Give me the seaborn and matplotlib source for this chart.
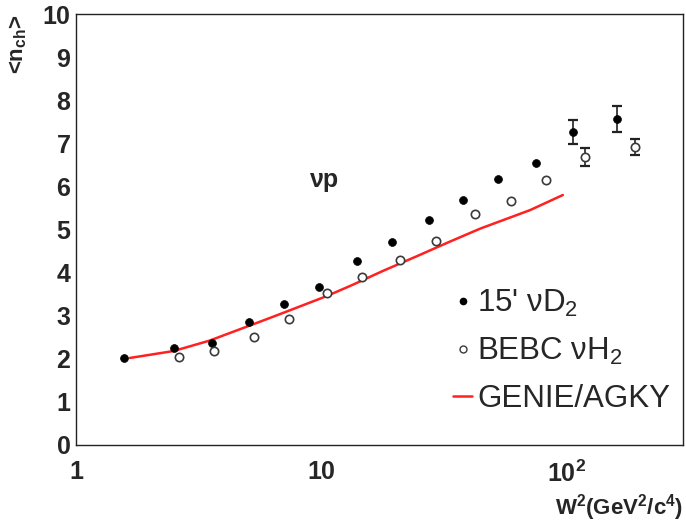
import matplotlib
matplotlib.use("Agg")
import matplotlib.pyplot as plt
from matplotlib.ticker import FixedLocator, MultipleLocator, NullFormatter, FixedFormatter
from matplotlib.lines import Line2D
import numpy as np
import pandas as pd
import seaborn as sns

# 15' bubble chamber, nu D2
d2_w2 = [1.57, 2.51, 3.59, 5.08, 7.06, 9.82, 14.0, 19.5, 27.6, 38.0, 52.8, 75.4, 107, 161]
d2_nch = [2.02, 2.25, 2.37, 2.85, 3.27, 3.67, 4.27, 4.71, 5.22, 5.68, 6.17, 6.54, 7.26, 7.56]
d2_err = [0, 0, 0, 0, 0, 0, 0, 0, 0, 0, 0, 0, 0.27, 0.30]

# BEBC, nu H2
h2_w2 = [2.63, 3.66, 5.33, 7.41, 10.6, 14.7, 21.0, 29.4, 42.6, 59.7, 82.8, 120, 191]
h2_nch = [2.04, 2.18, 2.51, 2.92, 3.53, 3.90, 4.29, 4.73, 5.36, 5.66, 6.15, 6.68, 6.91]
h2_err = [0, 0, 0, 0, 0, 0, 0, 0, 0, 0, 0, 0.20, 0.18]

# GENIE / AGKY prediction
genie_w2 = [1.66, 2.5, 3.5, 5.0, 6.2, 7.5, 10.6, 13.5, 17.9, 24.6, 33.6, 44.6, 71.3, 97]
genie_nch = [2.02, 2.18, 2.42, 2.75, 2.95, 3.13, 3.46, 3.72, 4.04, 4.38, 4.72, 5.02, 5.45, 5.80]

x_major = [1, 10, 100]
x_labels = ["1", "10", "10$^2$"]

sns.set_theme(style="white")
plt.rcParams["font.family"] = ["Liberation Sans", "DejaVu Sans"]
plt.rcParams["mathtext.default"] = "regular"

fig = plt.figure(figsize=(6.86, 5.24), dpi=100)
ax = fig.add_axes([76 / 686, 79 / 524, 607 / 686, 431 / 524])

genie = pd.DataFrame({"w2": genie_w2, "nch": genie_nch})
d2 = pd.DataFrame({"w2": d2_w2, "nch": d2_nch, "err": d2_err})
h2 = pd.DataFrame({"w2": h2_w2, "nch": h2_nch, "err": h2_err})

sns.lineplot(data=genie, x="w2", y="nch", color="#ff2020", linewidth=1.8, ax=ax,
             sort=True, legend=False)

for df in (d2, h2):
    e = df[df["err"] > 0]
    ax.errorbar(e["w2"], e["nch"], yerr=e["err"], fmt="none", ecolor="#222222",
                elinewidth=1.2, capsize=3.5, capthick=1.6, zorder=3)

sns.scatterplot(data=d2, x="w2", y="nch", marker="o", s=32, color="black",
                edgecolor="black", linewidth=0.5, ax=ax, zorder=4, legend=False)
sns.scatterplot(data=h2, x="w2", y="nch", marker="o", s=36, facecolor="white",
                edgecolor="#3a3a3a", linewidth=1.2, ax=ax, zorder=4, legend=False)

ax.set_xscale("log")
ax.set_xlim(1, 300)
ax.set_ylim(0, 10)

ax.xaxis.set_major_locator(FixedLocator(x_major))
ax.xaxis.set_major_formatter(FixedFormatter(x_labels))
minor = [m * 10 ** k for k in range(0, 3) for m in range(2, 10) if m * 10 ** k < 300]
ax.xaxis.set_minor_locator(FixedLocator(minor))
ax.xaxis.set_minor_formatter(NullFormatter())
ax.yaxis.set_major_locator(MultipleLocator(1))
ax.yaxis.set_minor_locator(MultipleLocator(0.2))

ax.tick_params(axis="both", which="both", direction="in", top=False, right=False,
               color="#444444", width=1.0)
ax.tick_params(axis="y", which="major", length=12, pad=4)
ax.tick_params(axis="y", which="minor", length=6)
ax.tick_params(axis="x", which="major", length=12, pad=11)
ax.tick_params(axis="x", which="minor", length=6)
for lab in ax.get_xticklabels() + ax.get_yticklabels():
    lab.set_fontsize(18)
    lab.set_fontweight("bold")

for sp in ax.spines.values():
    sp.set_color("#222222")
    sp.set_linewidth(1.0)

ax.set_xlabel("W$^2$(GeV$^2$/c$^4$)", fontsize=16, fontweight="bold", loc="right",
              labelpad=4)
ax.set_ylabel("<n$_{ch}$>", fontsize=16, fontweight="bold", loc="top", labelpad=10)

ax.text(9.0, 6.15, "νp", fontsize=18, fontweight="bold", va="center", ha="left")

handles = [
    Line2D([], [], linestyle="none", marker="o", markersize=4.5, color="black"),
    Line2D([], [], linestyle="none", marker="o", markersize=5, markerfacecolor="white",
           markeredgecolor="#3a3a3a", markeredgewidth=1.0),
    Line2D([], [], color="#ff2020", linewidth=1.8),
]
labels = ["15' νD$_2$", "BEBC νH$_2$", "GENIE/AGKY"]
fig.legend(handles, labels, loc="center left", bbox_to_anchor=(453 / 686, 0.33),
           bbox_transform=fig.transFigure, frameon=False, fontsize=22.5,
           handlelength=0.62, handletextpad=0.15, labelspacing=0.55,
           borderpad=0, borderaxespad=0)

fig.savefig("out.png", dpi=100, facecolor="white")
